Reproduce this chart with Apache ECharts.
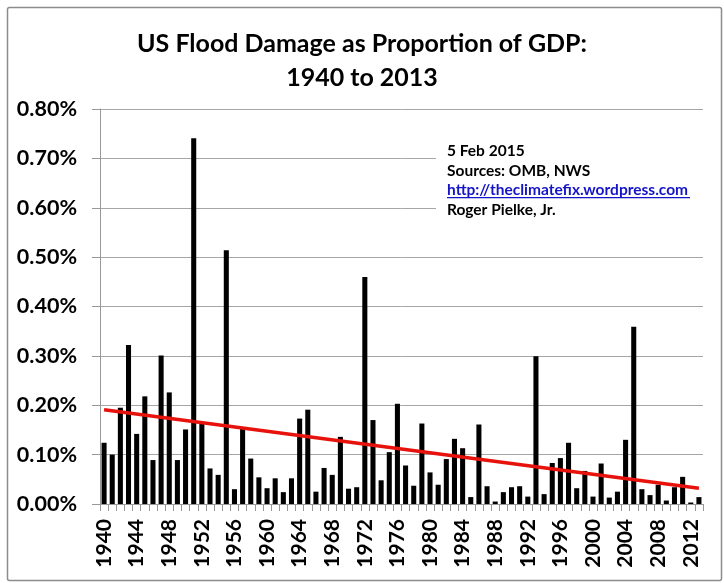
<!DOCTYPE html>
<html>
<head>
<meta charset="utf-8">
<script src="https://cdn.jsdelivr.net/npm/echarts@6/dist/echarts.min.js"></script>
<style>
  html, body { margin: 0; padding: 0; background: #fff; }
  #chart { width: 724px; height: 583px; }
</style>
</head>
<body>
<div id="chart"></div>
<script>
// Years 1940..2013
var years = [];
for (var y = 1940; y <= 2013; y++) years.push(String(y));

// flood damage as % of GDP
var damage = [
  0.124, 0.100, 0.195, 0.322, 0.142, 0.218, 0.089, 0.301, 0.226, 0.089,
  0.151, 0.741, 0.164, 0.072, 0.059, 0.514, 0.030, 0.154, 0.092, 0.054,
  0.032, 0.052, 0.024, 0.052, 0.173, 0.191, 0.025, 0.073, 0.059, 0.136,
  0.031, 0.034, 0.460, 0.170, 0.048, 0.105, 0.203, 0.078, 0.037, 0.163,
  0.064, 0.039, 0.091, 0.132, 0.113, 0.014, 0.161, 0.036, 0.005, 0.024,
  0.034, 0.036, 0.015, 0.299, 0.020, 0.083, 0.093, 0.124, 0.032, 0.067,
  0.015, 0.082, 0.013, 0.025, 0.130, 0.359, 0.030, 0.018, 0.039, 0.007,
  0.034, 0.055, 0.003, 0.014
];

// linear trend end points (start / end year)
var trendStart = 0.191;
var trendEnd = 0.032;

var yTicks = [0, 0.1, 0.2, 0.3, 0.4, 0.5, 0.6, 0.7, 0.8];

var noteLines = [
  "5 Feb 2015",
  "Sources: OMB, NWS",
  "http://theclimatefix.wordpress.com",
  "Roger Pielke, Jr."
];

var font = "Lato, 'Open Sans', sans-serif";

var chart = echarts.init(document.getElementById("chart"), null, { renderer: "canvas" });

function note(i, top, color) {
  return {
    type: "text",
    left: 447,
    top: top,
    z: 10,
    style: { text: noteLines[i], fontSize: 15.5, fontWeight: "bold", fontFamily: font, fill: color }
  };
}

var option = {
  backgroundColor: "#fff",
  animation: false,
  textStyle: { fontFamily: font, color: "#000" },
  title: {
    text: "US Flood Damage as Proportion of GDP:\n1940 to 2013",
    left: "center",
    top: 22,
    textStyle: {
      fontFamily: font,
      fontSize: 25,
      fontWeight: "bold",
      lineHeight: 34,
      color: "#000"
    }
  },
  grid: {
    left: 100,
    right: 21,
    top: 109,
    bottom: 79,
    containLabel: false
  },
  xAxis: {
    type: "category",
    data: years,
    axisLine: { lineStyle: { color: "#999", width: 1 } },
    axisTick: { show: true, alignWithLabel: false, interval: 0, length: 7, lineStyle: { color: "#999" } },
    axisLabel: {
      interval: 3,
      rotate: 90,
      fontSize: 21,
      fontWeight: "bold",
      color: "#000",
      fontFamily: font,
      margin: 15
    }
  },
  yAxis: {
    type: "value",
    min: yTicks[0],
    max: yTicks[yTicks.length - 1],
    interval: 0.1,
    axisLine: { show: true, lineStyle: { color: "#999", width: 1 } },
    axisTick: { show: true, length: 8, lineStyle: { color: "#999" } },
    splitLine: { show: true, lineStyle: { color: "#a6a6a6", width: 1 } },
    axisLabel: {
      fontSize: 21.5,
      fontWeight: "bold",
      color: "#000",
      fontFamily: font,
      margin: 23,
      formatter: function (v) { return v.toFixed(2) + "%"; }
    }
  },
  series: [
    {
      type: "bar",
      data: damage,
      barWidth: "62%",
      itemStyle: { color: "#000" },
      markLine: {
        silent: true,
        symbol: "none",
        label: { show: false },
        lineStyle: { color: "#e8120c", width: 3.5, type: "solid" },
        data: [[
          { coord: [years[0], trendStart] },
          { coord: [years[years.length - 1], trendEnd] }
        ]]
      }
    }
  ],
  graphic: {
    elements: [
      {
        type: "rect",
        left: 5,
        top: 5,
        shape: { width: 714, height: 573, r: 2 },
        style: { fill: "none", stroke: "#8c8c8c", lineWidth: 1.5 },
        silent: true
      },
      // white box behind the notes hides the gridlines there
      {
        type: "rect",
        left: 436,
        top: 138,
        z: 5,
        shape: { width: 268, height: 86 },
        style: { fill: "#fff" },
        silent: true
      },
      note(0, 143, "#000"),
      note(1, 163, "#000"),
      note(2, 182, "#1515c8"),
      {
        type: "rect",
        left: 447,
        top: 197,
        z: 10,
        shape: { width: 243, height: 1.2 },
        style: { fill: "#1515c8" }
      },
      note(3, 201.5, "#000")
    ]
  }
};

chart.setOption(option);
</script>
</body>
</html>
